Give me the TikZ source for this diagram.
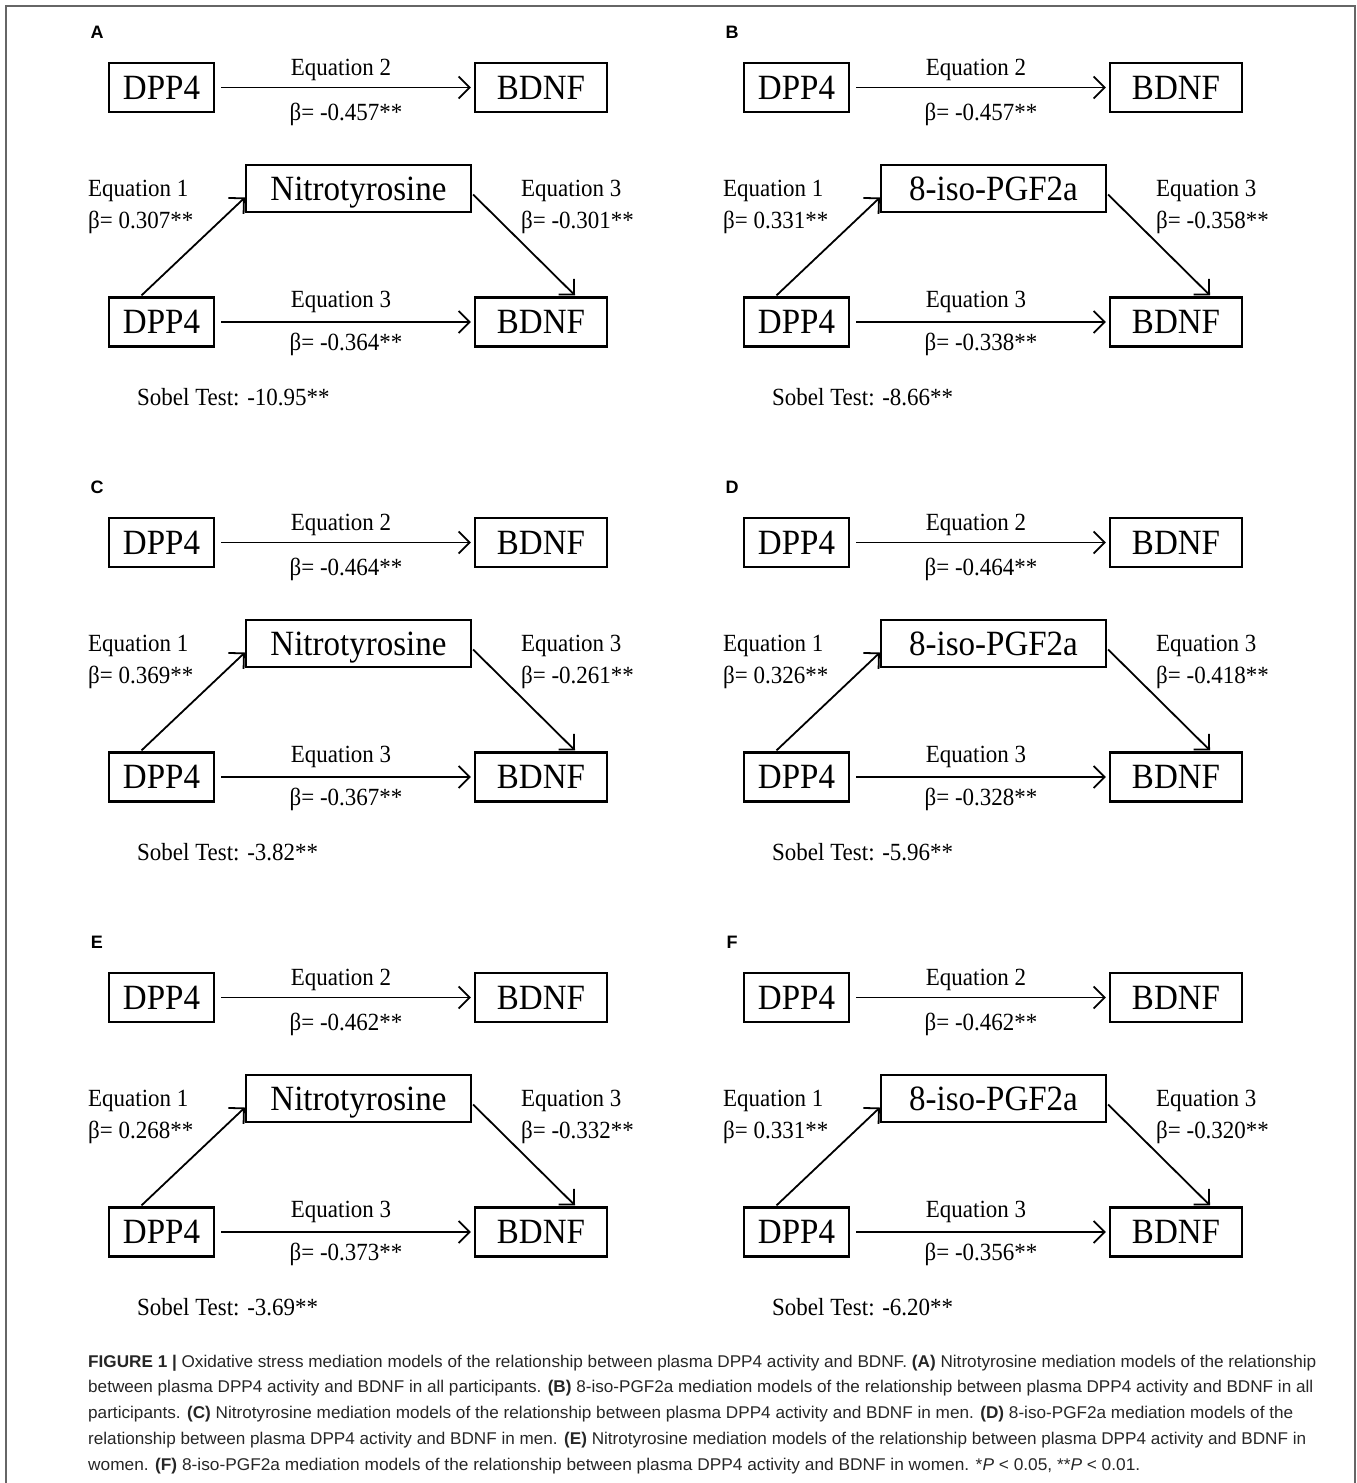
\documentclass[tikz,border=0pt]{standalone}
\usepackage{fontspec}
\setmainfont{Liberation Serif}[FakeStretch=0.93]
\newfontfamily\capfont{Liberation Sans}
\usetikzlibrary{arrows.meta,calc}
\tikzset{
  box/.style={draw, line width=2.2pt, inner sep=0pt, font=\fontsize{35.5}{38}\selectfont, minimum height=49pt, text height=23.5pt, text depth=0pt},
  lbl/.style={font=\fontsize{24.7}{28}\selectfont, inner sep=0pt},
  arr/.style={line width=1.8pt, -{Straight Barb[length=11pt,width=22pt,line width=1.8pt]}},
  plabel/.style={font=\capfont\bfseries\fontsize{18}{20}\selectfont, inner sep=0pt},
  capline/.style={font=\capfont\fontsize{17}{20}\selectfont, anchor=west, inner sep=0pt, text=black!85},
}
\begin{document}
\begin{tikzpicture}[x=1pt,y=-1pt]
\useasboundingbox (0,0) rectangle (1357,1483);
\draw[black!60, line width=2pt] (6,1483) -- (6,6) -- (1355,6) -- (1355,1483);

\foreach \dx/\dy/\pl/\med/\eqtwo/\eqone/\eqthm/\eqthd/\sob in {
  0/0/A/Nitrotyrosine/-0.457/0.307/-0.301/-0.364/-10.95,
  635/0/B/8-iso-PGF2a/-0.457/0.331/-0.358/-0.338/-8.66,
  0/455/C/Nitrotyrosine/-0.464/0.369/-0.261/-0.367/-3.82,
  635/455/D/8-iso-PGF2a/-0.464/0.326/-0.418/-0.328/-5.96,
  0/910/E/Nitrotyrosine/-0.462/0.268/-0.332/-0.373/-3.69,
  635/910/F/8-iso-PGF2a/-0.462/0.331/-0.320/-0.356/-6.20}
{
\begin{scope}[shift={(\dx,\dy)}]
  \node[plabel] (p\pl) at (97,32) {\pl};
  % top model
  \node[box, minimum width=105pt] (tA\pl) at (161.5,87.5) {DPP4};
  \node[box, minimum width=132pt] (tB\pl) at (541,87.5) {BDNF};
  \draw[arr, shorten <=6pt, shorten >=3pt] (tA\pl) -- (tB\pl);
  \node[lbl] (e2\pl) at (341,70) {Equation 2};
  \node[lbl] (b2\pl) at (346,114) {β= \eqtwo**};
  % mediation model
  \node[box, minimum width=225pt, minimum height=47pt] (m\pl) at (358.5,188.5) {\med};
  \node[box, minimum width=105pt] (bA\pl) at (161.5,322) {DPP4};
  \node[box, minimum width=132pt] (bB\pl) at (541,322) {BDNF};
  \draw[arr] ([xshift=-20pt,yshift=1pt]bA\pl.north) -- ([yshift=-9pt]m\pl.west);
  \draw[arr] ([xshift=1pt,yshift=-6pt]m\pl.east) -- ([xshift=34pt,yshift=1pt]bB\pl.north);
  \draw[arr, shorten <=6pt, shorten >=3pt] (bA\pl) -- (bB\pl);
  \node[lbl, anchor=west] (e1\pl) at (88,191) {Equation 1};
  \node[lbl, anchor=west] (b1\pl) at (88,222) {β= \eqone**};
  \node[lbl, anchor=west] (e3\pl) at (521,191) {Equation 3};
  \node[lbl, anchor=west] (b3\pl) at (521,222) {β= \eqthm**};
  \node[lbl] (e4\pl) at (341,302) {Equation 3};
  \node[lbl] (b4\pl) at (346,344) {β= \eqthd**};
  \node[lbl, anchor=west] (s\pl) at (137,397) {Sobel Test: \sob**};
\end{scope}
}

\node[capline] (c1) at (88,1363) {\resizebox{1228pt}{\height}{{\bfseries FIGURE 1 |} Oxidative stress mediation models of the relationship between plasma DPP4 activity and BDNF. {\bfseries (A)} Nitrotyrosine mediation models of the relationship}};
\node[capline] (c2) at (88,1388.5) {\resizebox{1225pt}{\height}{between plasma DPP4 activity and BDNF in all participants. {\bfseries (B)} 8-iso-PGF2a mediation models of the relationship between plasma DPP4 activity and BDNF in all}};
\node[capline] (c3) at (88,1414) {\resizebox{1205pt}{\height}{participants. {\bfseries (C)} Nitrotyrosine mediation models of the relationship between plasma DPP4 activity and BDNF in men. {\bfseries (D)} 8-iso-PGF2a mediation models of the}};
\node[capline] (c4) at (88,1440) {\resizebox{1218pt}{\height}{relationship between plasma DPP4 activity and BDNF in men. {\bfseries (E)} Nitrotyrosine mediation models of the relationship between plasma DPP4 activity and BDNF in}};
\node[capline] (c5) at (88,1466) {\resizebox{1052pt}{\height}{women. {\bfseries (F)} 8-iso-PGF2a mediation models of the relationship between plasma DPP4 activity and BDNF in women. *\textit{P} < 0.05, **\textit{P} < 0.01.}};
\end{tikzpicture}
\end{document}
